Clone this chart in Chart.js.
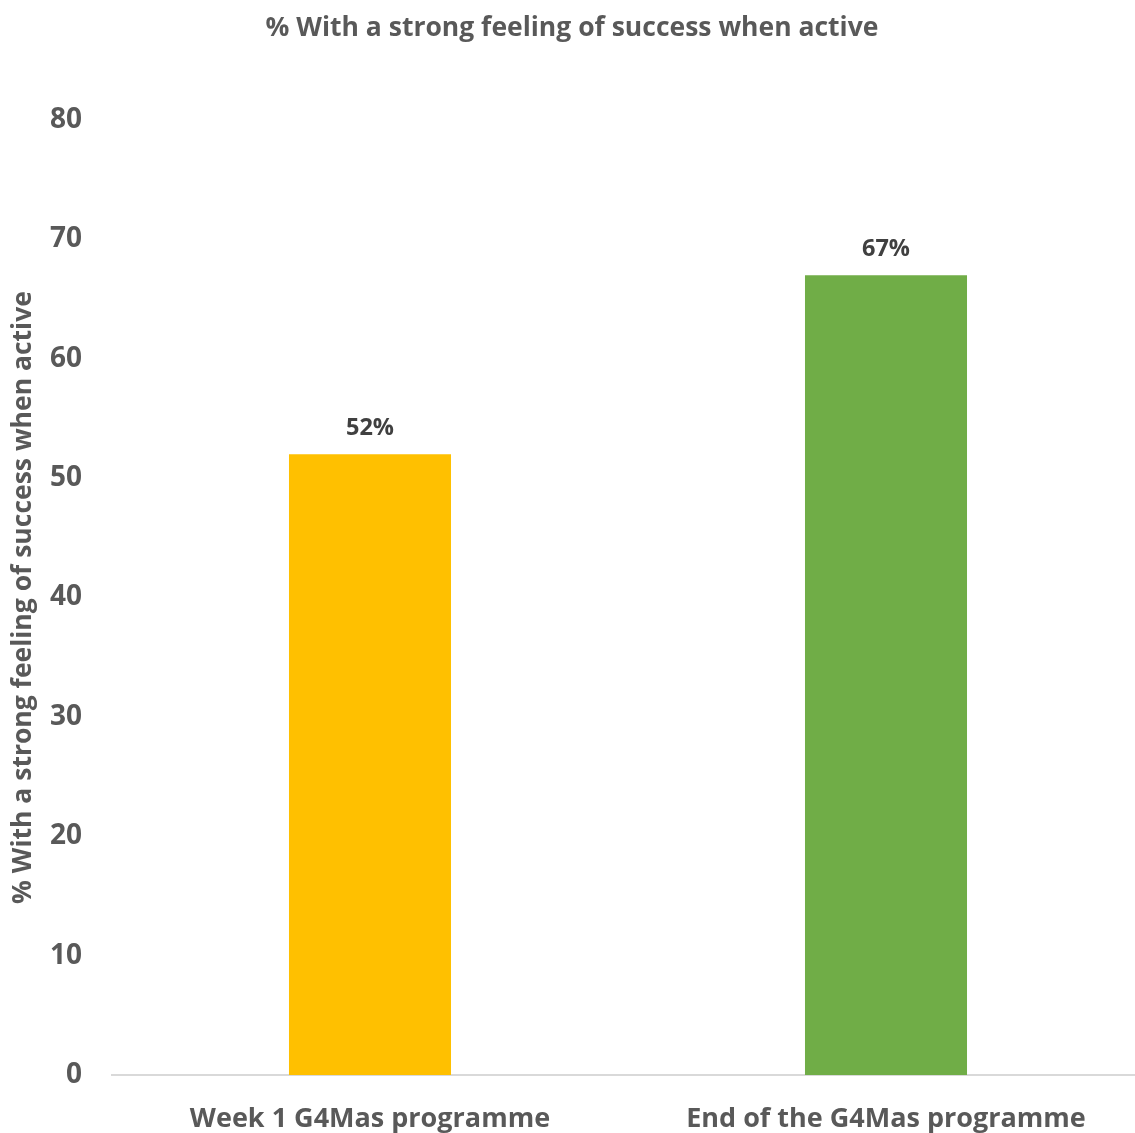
<!DOCTYPE html>
<html>
<head>
<meta charset="utf-8">
<title>% With a strong feeling of success when active</title>
<script src="https://cdn.jsdelivr.net/npm/chart.js@4/dist/chart.umd.min.js"></script>
<style>
  html, body { margin: 0; padding: 0; background: #ffffff; overflow: hidden; }
  #wrap { width: 1144px; height: 1133px; }
</style>
</head>
<body>
<div id="wrap"><canvas id="chart" width="1144" height="1133"></canvas></div>
<script>
// Survey results: share of participants reporting a strong feeling of success
const categories = ['Week 1 G4Mas programme', 'End of the G4Mas programme'];
const values = [52, 67];
const barColors = ['#FFC000', '#70AD47'];
const valueLabels = ['52%', '67%'];
const yTicks = [0, 10, 20, 30, 40, 50, 60, 70, 80];

const FONT = '"Open Sans", Lato, "Liberation Sans", sans-serif';
const TEXT = '#595959';

// Draws the percentage label above each bar
const barValueLabels = {
  id: 'barValueLabels',
  afterDatasetsDraw(chart) {
    const ctx = chart.ctx;
    const meta = chart.getDatasetMeta(0);
    ctx.save();
    ctx.font = 'bold 23.5px ' + FONT;
    ctx.fillStyle = '#404040';
    ctx.textAlign = 'center';
    ctx.textBaseline = 'alphabetic';
    meta.data.forEach((bar, i) => {
      ctx.fillText(valueLabels[i], bar.x, bar.y - 19);
    });
    ctx.restore();
  }
};

new Chart(document.getElementById('chart'), {
  type: 'bar',
  data: {
    labels: categories,
    datasets: [{
      data: values,
      backgroundColor: barColors,
      borderWidth: 0,
      barPercentage: 0.314,
      categoryPercentage: 1
    }]
  },
  options: {
    responsive: false,
    animation: false,
    layout: { padding: 0 },
    plugins: {
      legend: { display: false },
      tooltip: { enabled: false },
      title: {
        display: true,
        text: '% With a strong feeling of success when active',
        color: TEXT,
        font: { family: FONT, size: 26.5, weight: 'bold' },
        padding: { top: 13, bottom: 75.2 }
      }
    },
    scales: {
      x: {
        grid: { display: false, drawTicks: false },
        border: { display: true, color: '#D9D9D9', width: 2 },
        ticks: {
          color: TEXT,
          font: { family: FONT, size: 27, weight: 'bold' },
          padding: 28,
          maxRotation: 0
        },
        afterFit(scale) { scale.height = 58; }
      },
      y: {
        min: 0,
        max: 80,
        afterBuildTicks(scale) { scale.ticks = yTicks.map(v => ({ value: v })); },
        grid: { display: false, drawTicks: false },
        border: { display: false },
        ticks: {
          color: TEXT,
          font: { family: FONT, size: 28, weight: 'bold' },
          padding: 30
        },
        title: {
          display: true,
          text: '% With a strong feeling of success when active',
          color: TEXT,
          font: { family: FONT, size: 26.5, weight: 'bold' },
          padding: { top: 8, bottom: 0 }
        },
        afterFit(scale) { scale.width = 112; }
      }
    }
  },
  plugins: [barValueLabels]
});
</script>
</body>
</html>
